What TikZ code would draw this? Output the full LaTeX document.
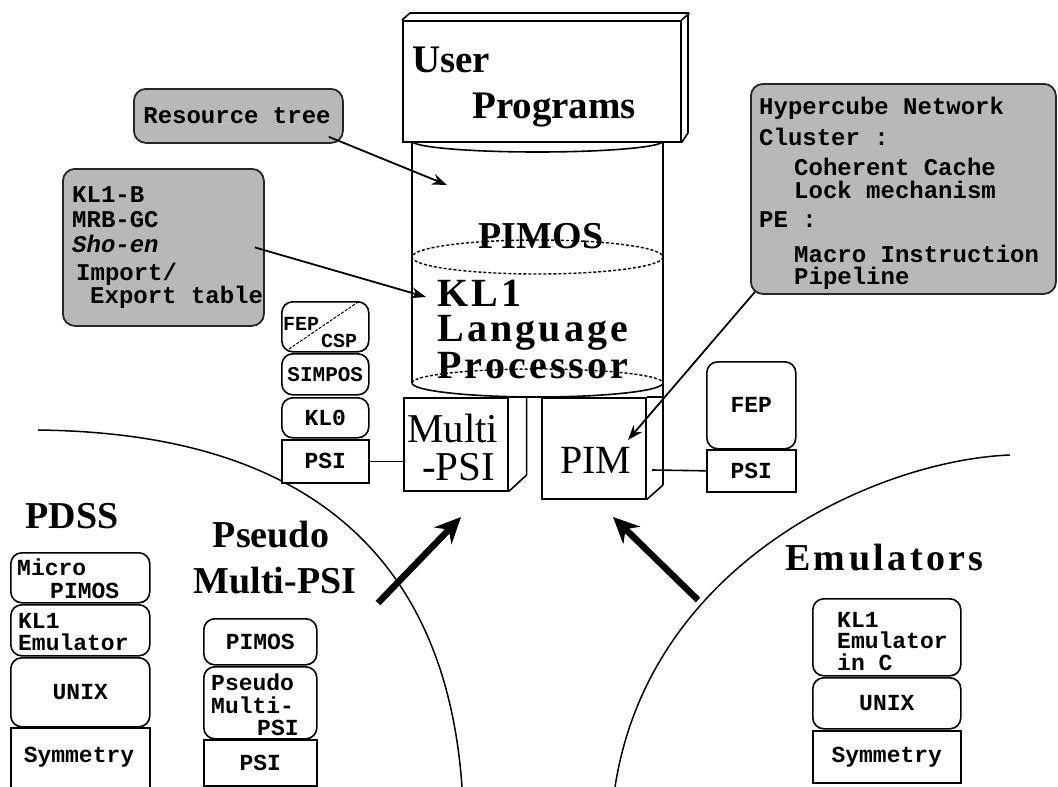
\documentclass[tikz,border=0pt]{standalone}
\usepackage{fontspec}
\setmainfont{Liberation Serif}
\setmonofont{Liberation Mono}
\usetikzlibrary{arrows.meta,calc}
\begin{document}
\begin{tikzpicture}[x=1pt,y=-1pt,
  pline/.style={line width=1.6pt},
  rbox/.style={draw, line width=1.6pt, rounded corners=11pt, inner sep=0pt, anchor=north west, fill=white},
  sbox/.style={draw, line width=1.6pt, inner sep=0pt, anchor=north west, fill=white},
  gbox/.style={draw=black!85, line width=1.8pt, fill=black!28, rounded corners=12pt, inner sep=0pt, anchor=north west},
  mtxt/.style={font=\ttfamily\bfseries\fontsize{23}{23}\selectfont, inner sep=0pt, anchor=base west},
  ctxt/.style={font=\ttfamily\bfseries\fontsize{23}{23}\selectfont, inner sep=0pt},
  stxt/.style={font=\ttfamily\bfseries\fontsize{20}{20}\selectfont, inner sep=0pt, anchor=base west},
  gtxt/.style={font=\ttfamily\bfseries\fontsize{24}{24}\selectfont, inner sep=0pt, anchor=base west},
  btxt/.style={font=\bfseries\fontsize{38}{38}\selectfont, inner sep=0pt, anchor=base west},
  rtxt/.style={font=\fontsize{41}{41}\selectfont, inner sep=0pt, anchor=base west},
  parr/.style={line width=1.8pt, -{Stealth[length=15pt,width=11pt]}},
  fatarr/.style={line width=6.5pt, -{Stealth[length=26pt,width=24pt]}},
  dsh/.style={line width=1.4pt, dash pattern=on 3pt off 2pt}
]
\path[use as bounding box, fill=white] (0,0) rectangle (1058,787);

% ---- boundary arcs
\draw[line width=1.5pt] (38,430) .. controls (190,432) and (440,470) .. (462,787);
\draw[line width=1.5pt] (1010,455) .. controls (880,460) and (650,560) .. (615,787);

% ---- cylinder
\draw[pline] (412,141) -- (412,383);
\draw[pline] (663,141) -- (663,485);
\draw[pline] (412,141) arc[start angle=180, end angle=0, x radius=125.5, y radius=11];
\draw[dsh] (537.5,257) ellipse [x radius=125.5, y radius=17];
\draw[dsh] (412,383) arc[start angle=180, end angle=360, x radius=125.5, y radius=14];
\draw[pline] (412,383) arc[start angle=180, end angle=0, x radius=125.5, y radius=14];

% ---- user programs box
\node[sbox, minimum width=278, minimum height=121] (user) at (402,20) {};
\draw[pline] (user.north west) -- ++(8,-7) -- ++(278,0) -- ++(0,120) -- (user.south east);
\draw[pline] (user.north east) -- ++(8,-7);
\node[btxt, font=\bfseries\fontsize{39}{39}\selectfont] (usert) at (412,72) {User};
\node[btxt, font=\bfseries\fontsize{39}{39}\selectfont] (progt) at (472,118) {Programs};

% ---- cylinder texts
\node[btxt, anchor=base] (pimost) at (541,248) {PIMOS};
\node[inner sep=0pt, anchor=north west, align=left,
      font=\bfseries\fontsize{40}{35}\selectfont\addfontfeatures{LetterSpace=8}]
      (kl1t) at (437,280) {KL1\\Language\\[1pt]Processor};

% ---- Multi-PSI and PIM boxes
\node[sbox, minimum width=104, minimum height=93] (multi) at (403,397) {};
\draw[pline] (multi.north east) -- ++(18,0) -- ++(0,78) -- (multi.south east);
\node[inner sep=0pt, anchor=north west, align=left, font=\fontsize{41}{38}\selectfont]
      (multit) at (407,414) {Multi\\\hspace*{15pt}-PSI};
\node[sbox, minimum width=104, minimum height=101] (pim) at (541,397) {};
\draw[pline] (pim.north east) -- (663,397);
\draw[pline] (pim.south east) -- (663,485);
\node[rtxt, font=\fontsize{40}{40}\selectfont] (pimt) at (560,473) {PIM};

% ---- left stack (FEP/CSP, SIMPOS, KL0, PSI)
\node[rbox, minimum width=87, minimum height=50] (fepcsp) at (281,301) {};
\draw[line width=1pt, dash pattern=on 3pt off 1.5pt] (289,349) -- (358,302);
\node[stxt] (fept) at (283,330) {FEP};
\node[stxt] (cspt) at (321,347) {CSP};
\node[rbox, minimum width=87, minimum height=41] (simpos) at (281,353) {};
\node[ctxt, font=\ttfamily\bfseries\fontsize{21}{21}\selectfont] (simpost) at (simpos.center) {SIMPOS};
\node[rbox, minimum width=87, minimum height=40] (kl0) at (281,397) {};
\node[ctxt] (kl0t) at (kl0.center) {KL0};
\node[sbox, minimum width=87, minimum height=43] (psil) at (281,439) {};
\node[ctxt] (psilt) at (psil.center) {PSI};
\draw[pline] (psil.east) -- (multi.west |- psil.east);

% ---- right stack (FEP, PSI)
\node[rbox, minimum width=89, minimum height=87] (fepr) at (706,361) {};
\node[ctxt] (feprt) at (fepr.center) {FEP};
\node[sbox, minimum width=89, minimum height=42] (psir) at (706,449) {};
\node[ctxt] (psirt) at (psir.center) {PSI};
\coordinate (pimc) at (652,470);
\draw[pline] (pimc) -- (psir.west);

% ---- gray boxes
\node[gbox, minimum width=209, minimum height=54] (res) at (133,88) {};
\node[gtxt, anchor=center] (rest) at (237,116) {Resource tree};

\node[gbox, minimum width=201, minimum height=157] (kl1b) at (62,168) {};
\node[gtxt] (g1) at (72,202) {KL1-B};
\node[gtxt] (g2) at (72,227) {MRB-GC};
\node[gtxt] (g3) at (72,252) {\itshape Sho-en};
\node[gtxt] (g4) at (76,280) {Import/};
\node[gtxt] (g5) at (90,303) {Export table};

\node[gbox, minimum width=305, minimum height=210] (hyper) at (750,83) {};
\node[gtxt] (h1) at (759,114) {Hypercube Network};
\node[gtxt] (h2) at (759,145) {Cluster :};
\node[gtxt] (h3) at (794,175) {Coherent Cache};
\node[gtxt] (h4) at (794,198) {Lock mechanism};
\node[gtxt] (h5) at (759,227) {PE :};
\node[gtxt] (h6) at (794,262) {Macro Instruction};
\node[gtxt] (h7) at (794,284) {Pipeline};

% ---- thin arrows
\coordinate (a1) at (447,185);
\coordinate (a2) at (426,297);
\coordinate (a3) at (628,440);
\draw[parr] ($(res.south east)+(-15,-7)$) -- (a1);
\draw[parr] ($(kl1b.east)+(-10,0)$) -- (a2);
\draw[parr] ($(hyper.south west)+(5,-3)$) -- (a3);

% ---- thick arrows
\coordinate (lt) at (378,603);
\coordinate (lh) at (461,517);
\coordinate (rt) at (698,600);
\coordinate (rh) at (613,517);
\draw[fatarr] (lt) -- (lh);
\draw[fatarr] (rt) -- (rh);

% ---- group labels
\node[btxt, anchor=base] (pdss) at (72,528) {PDSS};
\node[btxt, anchor=base] (pseudo) at (271,547) {Pseudo};
\node[btxt, anchor=base] (pmpsi) at (275,593) {Multi-PSI};
\node[btxt, font=\bfseries\fontsize{38}{38}\selectfont\addfontfeatures{LetterSpace=9}] (emul) at (785,570) {Emulators};

% ---- PDSS stack
\node[rbox, minimum width=139, minimum height=50] (micro) at (10,552) {};
\node[mtxt] (microt1) at (17,575) {Micro};
\node[mtxt] (microt2) at (50,598) {PIMOS};
\node[rbox, minimum width=139, minimum height=51] (kl1e) at (10,604) {};
\node[mtxt] (kl1et1) at (18,628) {KL1};
\node[mtxt] (kl1et2) at (18,650) {Emulator};
\node[rbox, minimum width=139, minimum height=69] (unix) at (10,657) {};
\node[ctxt] (unixt) at (unix.center) {UNIX};
\node[sbox, minimum width=139, minimum height=60] (sym) at (10,727) {};
\node[ctxt] (symt) at (79,757) {Symmetry};

% ---- Pseudo Multi-PSI stack
\node[rbox, minimum width=113, minimum height=46] (pimos2) at (203,618) {};
\node[ctxt] (pimos2t) at (pimos2.center) {PIMOS};
\node[rbox, minimum width=113, minimum height=72] (pmp) at (203,666) {};
\node[mtxt] (pmpt1) at (211,690) {Pseudo};
\node[mtxt] (pmpt2) at (211,713) {Multi-};
\node[mtxt] (pmpt3) at (257,735) {PSI};
\node[sbox, minimum width=113, minimum height=46] (psi2) at (203,739) {};
\node[ctxt] (psi2t) at (psi2.center) {PSI};

% ---- Emulators stack
\node[rbox, minimum width=148, minimum height=77] (kl1c) at (812,598) {};
\node[inner sep=0pt, anchor=north west, align=left, font=\ttfamily\bfseries\fontsize{23}{21.5}\selectfont]
      (kl1ct) at (837,612) {KL1\\Emulator\\in C};
\node[rbox, minimum width=148, minimum height=51] (unix2) at (812,677) {};
\node[ctxt] (unix2t) at (unix2.center) {UNIX};
\node[sbox, minimum width=148, minimum height=52] (sym2) at (812,730) {};
\node[ctxt] (sym2t) at (sym2.center) {Symmetry};
\end{tikzpicture}
\end{document}
